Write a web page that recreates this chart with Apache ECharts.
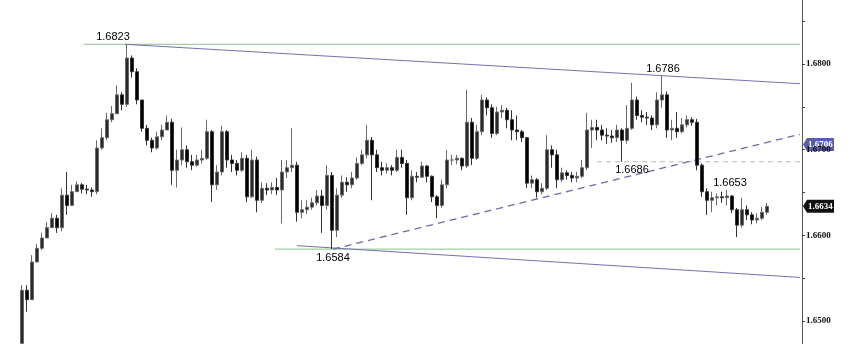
<!DOCTYPE html>
<html><head><meta charset="utf-8">
<script src="https://cdn.jsdelivr.net/npm/echarts@6/dist/echarts.min.js"></script>
<style>html,body{margin:0;padding:0;background:#fff}#c{width:860px;height:344px}</style>
</head><body><div id="c"></div>
<script>
// ---- data ----
const opens = [1.6474,1.6536,1.6525,1.6569,1.6585,1.6597,1.6609,1.6620,1.6609,1.6647,
1.6635,1.6651,1.6659,1.6654,1.6653,1.6651,1.6702,1.6714,1.6735,1.6742,
1.6764,1.6753,1.6807,1.6791,1.6758,1.6725,1.6711,1.6702,1.6715,1.6723,
1.6732,1.6676,1.6688,1.6700,1.6686,1.6682,1.6688,1.6690,1.6721,1.6659,
1.6674,1.6721,1.6688,1.6684,1.6676,1.6690,1.6645,1.6688,1.6641,1.6655,
1.6653,1.6656,1.6653,1.6674,1.6679,1.6682,1.6627,1.6630,1.6633,1.6638,
1.6646,1.6635,1.6670,1.6606,1.6647,1.6662,1.6659,1.6667,1.6684,1.6694,
1.6711,1.6694,1.6679,1.6676,1.6679,1.6676,1.6691,1.6684,1.6644,1.6669,
1.6668,1.6681,1.6669,1.6645,1.6635,1.6659,1.6688,1.6688,1.6690,1.6681,
1.6732,1.6690,1.6721,1.6758,1.6749,1.6719,1.6744,1.6746,1.6735,1.6723,
1.6721,1.6714,1.6661,1.6665,1.6651,1.6655,1.6700,1.6694,1.6665,1.6673,
1.6670,1.6667,1.6669,1.6679,1.6723,1.6726,1.6723,1.6717,1.6716,1.6714,
1.6723,1.6711,1.6725,1.6758,1.6740,1.6738,1.6737,1.6729,1.6758,1.6764,
1.6723,1.6725,1.6721,1.6729,1.6735,1.6732,1.6682,1.6651,1.6641,1.6644,
1.6645,1.6644,1.6646,1.6630,1.6612,1.6630,1.6624,1.6618,1.6620,1.6627];
const closes = [1.6536,1.6525,1.6569,1.6585,1.6597,1.6609,1.6620,1.6609,1.6647,1.6635,
1.6651,1.6659,1.6654,1.6653,1.6651,1.6702,1.6714,1.6735,1.6742,1.6764,
1.6753,1.6807,1.6791,1.6758,1.6725,1.6711,1.6702,1.6715,1.6723,1.6732,
1.6676,1.6688,1.6700,1.6686,1.6682,1.6688,1.6690,1.6721,1.6659,1.6674,
1.6721,1.6688,1.6684,1.6676,1.6690,1.6645,1.6688,1.6641,1.6655,1.6653,
1.6656,1.6653,1.6674,1.6679,1.6682,1.6627,1.6630,1.6633,1.6638,1.6646,
1.6635,1.6670,1.6606,1.6647,1.6662,1.6659,1.6667,1.6684,1.6694,1.6711,
1.6694,1.6679,1.6676,1.6679,1.6676,1.6691,1.6684,1.6644,1.6669,1.6668,
1.6681,1.6669,1.6645,1.6635,1.6659,1.6688,1.6688,1.6690,1.6681,1.6732,
1.6690,1.6721,1.6758,1.6749,1.6719,1.6744,1.6746,1.6735,1.6723,1.6721,
1.6714,1.6661,1.6665,1.6651,1.6655,1.6700,1.6694,1.6665,1.6673,1.6670,
1.6667,1.6669,1.6679,1.6723,1.6726,1.6723,1.6717,1.6716,1.6714,1.6723,
1.6711,1.6725,1.6758,1.6740,1.6738,1.6737,1.6729,1.6758,1.6764,1.6723,
1.6725,1.6721,1.6729,1.6735,1.6732,1.6682,1.6651,1.6641,1.6644,1.6645,
1.6644,1.6646,1.6630,1.6612,1.6630,1.6624,1.6618,1.6620,1.6627,1.6634];
const highs = [1.6542,1.6542,1.6577,1.6590,1.6603,1.6616,1.6626,1.6624,1.6655,1.6674,
1.6659,1.6663,1.6661,1.6659,1.6656,1.6711,1.6725,1.6743,1.6751,1.6775,
1.6767,1.6823,1.6810,1.6795,1.6758,1.6729,1.6714,1.6721,1.6729,1.6740,
1.6736,1.6700,1.6726,1.6705,1.6694,1.6694,1.6700,1.6735,1.6723,1.6682,
1.6728,1.6723,1.6694,1.6688,1.6697,1.6694,1.6700,1.6692,1.6662,1.6661,
1.6662,1.6667,1.6688,1.6688,1.6725,1.6686,1.6641,1.6641,1.6644,1.6653,
1.6653,1.6682,1.6674,1.6655,1.6670,1.6668,1.6674,1.6691,1.6700,1.6729,
1.6715,1.6700,1.6686,1.6684,1.6682,1.6700,1.6700,1.6688,1.6676,1.6674,
1.6686,1.6682,1.6670,1.6647,1.6665,1.6700,1.6694,1.6694,1.6691,1.6770,
1.6737,1.6729,1.6764,1.6761,1.6753,1.6750,1.6752,1.6749,1.6746,1.6740,
1.6723,1.6715,1.6670,1.6667,1.6661,1.6717,1.6705,1.6700,1.6679,1.6676,
1.6674,1.6674,1.6688,1.6743,1.6735,1.6735,1.6729,1.6725,1.6723,1.6729,
1.6725,1.6752,1.6778,1.6762,1.6746,1.6744,1.6740,1.6767,1.6786,1.6768,
1.6735,1.6744,1.6737,1.6740,1.6738,1.6736,1.6684,1.6655,1.6651,1.6649,
1.6651,1.6653,1.6647,1.6632,1.6644,1.6635,1.6627,1.6626,1.6633,1.6638];
const lows = [1.6474,1.6511,1.6525,1.6569,1.6583,1.6597,1.6609,1.6603,1.6605,1.6624,
1.6635,1.6651,1.6649,1.6648,1.6645,1.6648,1.6700,1.6711,1.6732,1.6742,
1.6746,1.6750,1.6784,1.6753,1.6721,1.6705,1.6697,1.6700,1.6711,1.6723,
1.6659,1.6656,1.6682,1.6679,1.6676,1.6680,1.6684,1.6688,1.6639,1.6653,
1.6670,1.6679,1.6674,1.6670,1.6674,1.6639,1.6644,1.6627,1.6638,1.6647,
1.6648,1.6647,1.6614,1.6667,1.6674,1.6616,1.6620,1.6625,1.6630,1.6635,
1.6603,1.6630,1.6584,1.6598,1.6644,1.6651,1.6655,1.6665,1.6682,1.6690,
1.6641,1.6674,1.6670,1.6672,1.6670,1.6674,1.6679,1.6624,1.6641,1.6662,
1.6667,1.6662,1.6639,1.6620,1.6632,1.6655,1.6682,1.6683,1.6676,1.6679,
1.6682,1.6688,1.6717,1.6740,1.6714,1.6717,1.6737,1.6725,1.6711,1.6711,
1.6709,1.6655,1.6655,1.6644,1.6648,1.6653,1.6679,1.6655,1.6662,1.6665,
1.6662,1.6662,1.6667,1.6676,1.6702,1.6711,1.6711,1.6707,1.6708,1.6709,
1.6686,1.6707,1.6723,1.6735,1.6732,1.6729,1.6723,1.6725,1.6749,1.6714,
1.6711,1.6714,1.6719,1.6726,1.6728,1.6676,1.6645,1.6624,1.6627,1.6635,
1.6638,1.6635,1.6626,1.6598,1.6609,1.6618,1.6613,1.6614,1.6618,1.6624];

// y-axis ticks / labels
const yLabelValues = [1.65, 1.66, 1.67, 1.68];
const yTickValues = [1.650, 1.655, 1.660, 1.665, 1.670, 1.675, 1.680, 1.685];

// drawn lines: [barIndex, price] end points
const greenTop = [[12.4, 1.6823], [155.6, 1.6823]];
const greenBottom = [[50.6, 1.6584], [155.6, 1.6584]];
const upperChannel = [[20.6, 1.6823], [155.6, 1.6777]];
const lowerChannel = [[55.0, 1.6588], [155.6, 1.6551]];
const risingTrend = [[62.2, 1.6584], [155.6, 1.6718]];
const level6686 = [[115.0, 1.6686], [155.6, 1.6686]];

// price annotations
const annoIndex = [21, 128, 120, 141, 62];
const annoPrice = [1.6823, 1.6786, 1.6686, 1.6653, 1.6584];
const annoText  = ['1.6823', '1.6786', '1.6686', '1.6653', '1.6584'];
const annoSide  = ['top', 'top', 'bottom', 'top', 'bottom'];
const annoShift = [-14, 1, 10, 3, 1];

// right-edge price tags
const lastPrice = 1.6634;
const trendTagPrice = 1.6706;

// ---- chart ----
const xMin = -4.4, xMax = 156;
const yMin = 1.64733, yMax = 1.68747;
const candles = closes.map((c, i) => [i, opens[i], c, lows[i], highs[i]]);

const chart = echarts.init(document.getElementById('c'), null, {renderer: 'canvas'});

function lineSeries(pts, color, type, width) {
  return {type: 'line', data: pts, symbol: 'none', silent: true, animation: false,
    lineStyle: {color: color, type: type, width: width}, z: 3};
}

chart.setOption({
  animation: false,
  backgroundColor: '#ffffff',
  grid: {left: 0, right: 58, top: 0, bottom: 0, containLabel: false, outerBoundsMode: 'none'},
  xAxis: {type: 'value', min: xMin, max: xMax, show: false, splitLine: {show: false}},
  yAxis: {
    type: 'value', position: 'right', min: yMin, max: yMax, scale: true,
    axisLine: {show: true, onZero: false, lineStyle: {color: '#555', width: 1}},
    axisTick: {show: true, customValues: yTickValues, length: 3, lineStyle: {color: '#444'}},
    axisLabel: {show: true, customValues: yLabelValues, formatter: v => v.toFixed(4),
      fontFamily: 'Liberation Serif', fontWeight: 'bold', fontSize: 9, color: '#111', margin: 4},
    splitLine: {show: false}
  },
  series: [
    lineSeries(greenTop, '#8cc48c', 'solid', 1),
    lineSeries(greenBottom, '#8cc48c', 'solid', 1),
    lineSeries(upperChannel, '#7272ae', 'solid', 1),
    lineSeries(lowerChannel, '#7272ae', 'solid', 1),
    lineSeries(level6686, '#bbbbbb', [5, 4], 1),
    lineSeries(risingTrend, '#6b6bab', [7, 5], 1.3),
    {
      type: 'candlestick',
      data: candles,
      encode: {x: 0, y: [1, 2, 3, 4]},
      barWidth: 3,
      z: 4,
      itemStyle: {color: '#2a2a2a', color0: '#000000', borderColor: '#6a6a6a', borderColor0: '#333333', borderWidth: 1},
      markPoint: {
        symbol: 'circle', symbolSize: 0, silent: true, animation: false,
        data: annoIndex.map((ix, k) => ({
          name: annoText[k], coord: [ix, annoPrice[k]],
          label: {show: true, position: annoSide[k], distance: annoSide[k] === 'top' ? 2 : 3,
            offset: [annoShift[k], 0], formatter: '{b}',
            fontFamily: 'Liberation Sans', fontSize: 11, color: '#000'}
        }))
      }
    }
  ]
});

// price tags on the axis, positioned through the chart's own scales
const axisX = chart.convertToPixel({xAxisIndex: 0}, xMax);
function tag(price, bg) {
  const y = chart.convertToPixel({yAxisIndex: 0}, price);
  return {
    type: 'group', z: 50, children: [
      {type: 'polygon', shape: {points: [[axisX + 1, y], [axisX + 5, y - 6.5], [axisX + 32, y - 6.5], [axisX + 32, y + 6.5], [axisX + 5, y + 6.5]]},
        style: {fill: bg}},
      {type: 'text', style: {x: axisX + 6, y: y, text: price.toFixed(4), fill: '#ffffff',
        font: 'bold 9px "Liberation Serif"', verticalAlign: 'middle', align: 'left'}}
    ]
  };
}
chart.setOption({graphic: [tag(trendTagPrice, '#5a5ea8'), tag(lastPrice, '#111111')]});
</script></body></html>
